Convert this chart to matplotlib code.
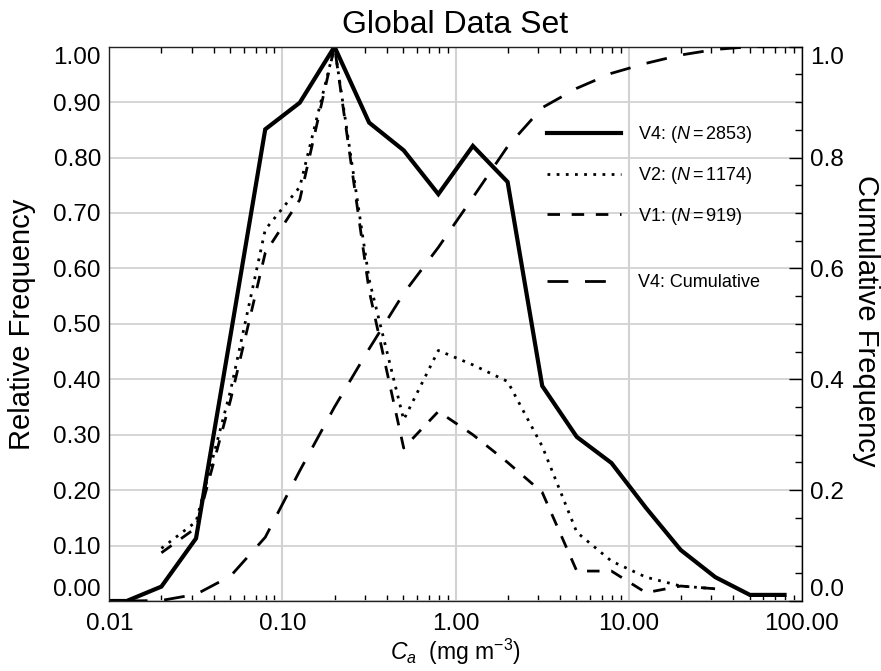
import numpy as np
import matplotlib
matplotlib.use("Agg")
import matplotlib.pyplot as plt
from matplotlib.ticker import FixedLocator, NullFormatter, LogLocator

plt.rcParams['font.family'] = ['Liberation Sans', 'DejaVu Sans']
plt.rcParams['mathtext.fontset'] = 'custom'
plt.rcParams['mathtext.rm'] = 'Liberation Sans'
plt.rcParams['mathtext.it'] = 'Liberation Sans:italic'

# ---- data ----
x_bins = [0.00796, 0.0126, 0.02, 0.0317, 0.0502, 0.0796, 0.126, 0.2, 0.317,
          0.502, 0.796, 1.26, 2.0, 3.17, 5.02, 7.96, 12.6, 20.0, 31.7, 50.2, 79.6]

v4_freq = [0.0, 0.0, 0.026, 0.113, 0.48, 0.851, 0.899, 1.0, 0.863, 0.813, 0.734,
           0.821, 0.756, 0.388, 0.296, 0.249, 0.168, 0.092, 0.043, 0.011, 0.011]

v2_x = x_bins[2:19]
v2_freq = [0.095, 0.143, 0.38, 0.67, 0.747, 1.0, 0.58, 0.327, 0.452, 0.426,
           0.396, 0.279, 0.124, 0.072, 0.043, 0.027, 0.022]

v1_x = x_bins[2:19]
v1_freq = [0.087, 0.132, 0.363, 0.628, 0.724, 1.0, 0.56, 0.276, 0.342, 0.30,
           0.25, 0.196, 0.054, 0.054, 0.015, 0.027, 0.022]

cum_x = x_bins[1:]
v4_cum = [0.0, 0.001, 0.012, 0.045, 0.115, 0.235, 0.35, 0.455, 0.555, 0.638,
          0.728, 0.82, 0.89, 0.925, 0.952, 0.97, 0.985, 0.995, 1.0, 1.0]

labels = ['V4: ($N = 2853$)', 'V2: ($N = 1174$)', 'V1: ($N = 919$)', 'V4: Cumulative']

xticks = [0.01, 0.1, 1.0, 10.0, 100.0]
xticklabels = ['0.01', '0.10', '1.00', '10.00', '100.00']
yticks_left = [0.0, 0.1, 0.2, 0.3, 0.4, 0.5, 0.6, 0.7, 0.8, 0.9, 1.0]
yticks_right = [0.0, 0.2, 0.4, 0.6, 0.8, 1.0]

# ---- figure ----
W, H = 881, 671
fig = plt.figure(figsize=(W / 100, H / 100), dpi=100)
left, right, top, bottom = 109.3, 801.7, 46.7, 601.0
ax = fig.add_axes([left / W, 1 - bottom / H, (right - left) / W, (bottom - top) / H])

ax.set_xscale('log')
ax.set_xlim(0.01, 100)
ax.set_ylim(0, 1)

grid_c = '#d2d2d2'
ax.set_xticks(xticks)
ax.set_xticklabels(xticklabels)
ax.xaxis.set_minor_locator(LogLocator(base=10, subs=np.arange(2, 10)))
ax.xaxis.set_minor_formatter(NullFormatter())
ax.set_yticks(yticks_left)
ax.set_yticklabels(['%.2f' % v for v in yticks_left])
ax.grid(True, which='major', axis='x', color=grid_c, lw=1.5)
ax.grid(True, which='major', axis='y', color=grid_c, lw=1.3)
ax.tick_params(axis='x', which='major', length=0, labelsize=17.5, pad=9)
ax.tick_params(axis='x', which='minor', direction='in', length=4, width=1,
               top=True, bottom=True, color='black')
ax.tick_params(axis='y', which='major', length=0, labelsize=17.5, pad=6)
ax.set_axisbelow(True)

for s in ['left', 'top', 'bottom']:
    ax.spines[s].set_linestyle((0, (1.5, 1)))
    ax.spines[s].set_linewidth(1.0)
    ax.spines[s].set_color('#222222')
ax.spines['right'].set_visible(False)

ylabs = ax.get_yticklabels()
ylabs[0].set_va('bottom')
ylabs[-1].set_va('top')

l4, = ax.plot(x_bins, v4_freq, color='black', lw=3.0, solid_joinstyle='miter')
l2, = ax.plot(v2_x, v2_freq, color='black', lw=2.0, linestyle=(0, (1, 2.3)),
              dash_capstyle='butt')
l1, = ax.plot(v1_x, v1_freq, color='black', lw=2.0, linestyle=(0, (4.5, 4.2)),
              dash_capstyle='butt')

ax2 = ax.twinx()
ax2.set_ylim(0, 1)
ax2.set_yticks(yticks_right)
ax2.set_yticklabels(['%.1f' % v for v in yticks_right])
ax2.yaxis.set_minor_locator(FixedLocator([i * 0.05 for i in range(21)]))
ax2.tick_params(axis='y', which='major', direction='in', length=9.5, width=1,
                labelsize=17.5, pad=6)
ax2.tick_params(axis='y', which='minor', direction='in', length=5, width=1)
for s in ['left', 'top', 'bottom']:
    ax2.spines[s].set_visible(False)
ax2.spines['right'].set_linewidth(1.0)
ylabs2 = ax2.get_yticklabels()
ylabs2[0].set_va('bottom')
ylabs2[-1].set_va('top')

lc, = ax2.plot(cum_x, v4_cum, color='black', lw=2.0, linestyle=(0, (7.5, 6.0)),
               dash_capstyle='butt')

# ---- legends ----
leg_kw = dict(frameon=False, fontsize=13, handlelength=4.1, handletextpad=0.95,
              borderpad=0, borderaxespad=0, loc='upper left',
              bbox_transform=fig.transFigure)
leg1 = ax2.legend([l4, l2, l1], labels[:3], labelspacing=1.1,
                  bbox_to_anchor=(547 / W, 1 - 124 / H), **leg_kw)
ax2.add_artist(leg1)
ax2.legend([lc], labels[3:], bbox_to_anchor=(547 / W, 1 - 274 / H), **leg_kw)

# ---- text ----
fig.text(455.5 / W, 1 - 33 / H, 'Global Data Set', ha='center', va='baseline',
         fontsize=23)
fig.text(22 / W, 1 - 324 / H, 'Relative Frequency', rotation=90, ha='center',
         va='center', fontsize=21)
fig.text(866 / W, 1 - 321 / H, 'Cumulative Frequency', rotation=270, ha='center',
         va='center', fontsize=21)
fig.text(455.5 / W, 1 - 660 / H, r'$C_a$  (mg m$^{-3}$)', ha='center',
         va='baseline', fontsize=16.5)

fig.savefig('out.png', dpi=100)
